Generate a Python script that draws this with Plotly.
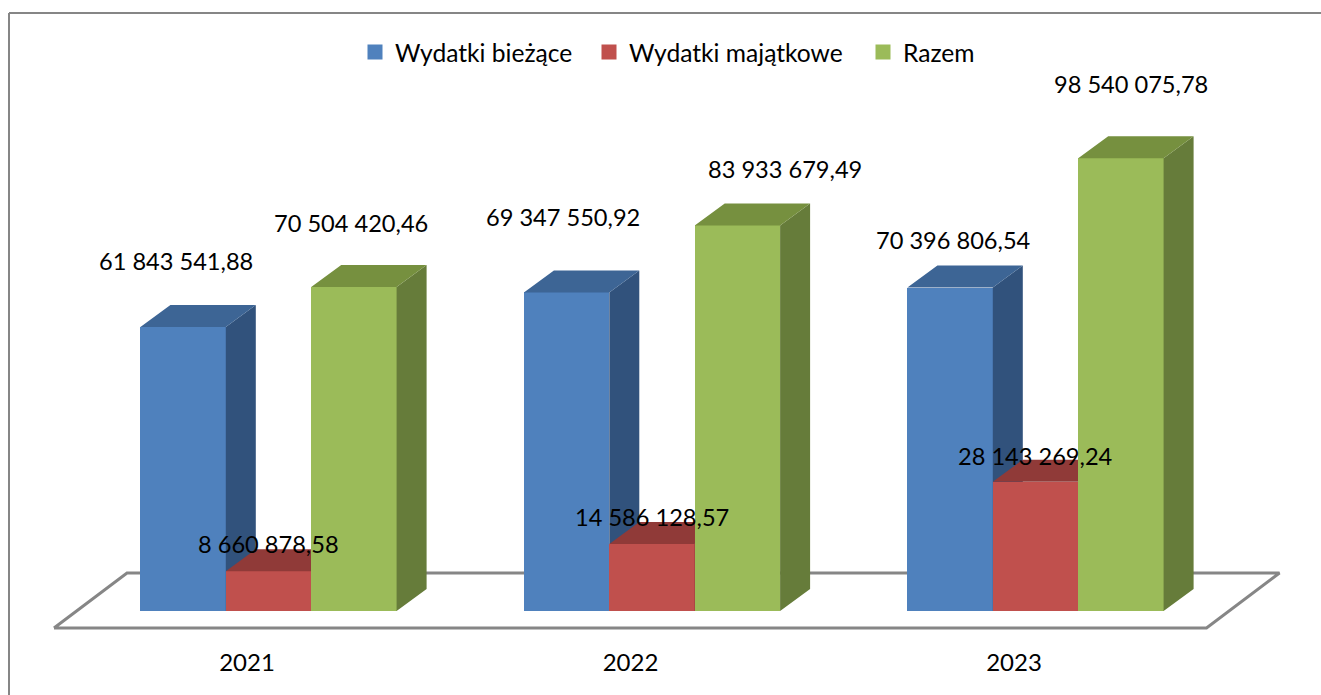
import plotly.graph_objects as go

# ---- data ----
years = [2021, 2022, 2023]
wydatki_biezace = [61843541.88, 69347550.92, 70396806.54]
wydatki_majatkowe = [8660878.58, 14586128.57, 28143269.24]
razem = [70504420.46, 83933679.49, 98540075.78]

series_names = ["Wydatki bieżące", "Wydatki majątkowe", "Razem"]
front_colors = ["#4F81BD", "#C0504D", "#9BBB59"]
side_colors = ["#31527C", "#7D3432", "#667C3A"]
top_colors = ["#3D6595", "#903A38", "#76903F"]

# label nudges in screen pixels (the labels are hand placed in the original)
label_dx = [[-7, -3.5, 3], [0, 0, 0], [-3, 48, 10]]
label_dy = [[66, 75, 48], [27, 27, 26], [64, 56, 74]]
# left edge of each legend entry's text, in pixels
legend_text_px = [395, 629, 903]

# ---- geometry ----
W, H = 1321, 695
BOTTOM = 50
UNIT_PX = 383.5           # pixels per year
VAL_PER_PX = 217680.0     # value per pixel
X0_PX, Y0_PX = 268.5, 611
TICK_SHIFT_PX = 21.5      # the year labels sit left of the bar groups
bar_w = 85.4 / UNIT_PX
dx = 30 / UNIT_PX
dy = 22 * VAL_PER_PX

x_range = [2021 - X0_PX / UNIT_PX, 2021 + (W - X0_PX) / UNIT_PX]
y_range = [-(H - BOTTOM - Y0_PX) * VAL_PER_PX, Y0_PX * VAL_PER_PX]

FONT = "Lato, Carlito, Calibri, sans-serif"
FS_LABEL = 23.6
FS_TICK = 24
FS_LEGEND = 24.6
all_series = [wydatki_biezace, wydatki_majatkowe, razem]


def fmt(v):
    return f"{v:,.2f}".replace(",", " ").replace(".", ",")


fig = go.Figure()

# floor of the 3D chart, in axis units
floor_left = 2021 - 214.5 / UNIT_PX
floor_right = 2023 + 171 / UNIT_PX
floor_front = -17 * VAL_PER_PX
floor_back = 38 * VAL_PER_PX
floor_dx = 73 / UNIT_PX
fig.add_trace(go.Scatter(
    x=[floor_left, floor_right, floor_right + floor_dx, floor_left + floor_dx, floor_left],
    y=[floor_front, floor_front, floor_back, floor_back, floor_front],
    mode="lines", line=dict(color="#868686", width=3),
    showlegend=False, hoverinfo="skip",
))

for i, (name, values) in enumerate(zip(series_names, all_series)):
    n = str(i + 2)
    xa, ya = "x" + n, "y" + n
    off = (-1.5 + i) * bar_w
    # front faces, as real bars
    fig.add_trace(go.Bar(
        x=years, y=values, name=name, width=bar_w, offset=off,
        marker=dict(color=front_colors[i], line=dict(width=0)),
        xaxis=xa, yaxis=ya, showlegend=False,
    ))
    # side and top faces, worked out from the same values
    sx, sy, tx, ty = [], [], [], []
    for yr, v in zip(years, values):
        l = yr + off
        r = l + bar_w
        sx += [r, r + dx, r + dx, r, r, None]
        sy += [0, dy, v + dy, v, 0, None]
        tx += [l, l + dx, r + dx, r, l, None]
        ty += [v, v + dy, v + dy, v, v, None]
    fig.add_trace(go.Scatter(x=sx, y=sy, mode="lines", fill="toself", fillcolor=side_colors[i],
                             line=dict(width=0), showlegend=False, hoverinfo="skip",
                             xaxis=xa, yaxis=ya))
    fig.add_trace(go.Scatter(x=tx, y=ty, mode="lines", fill="toself", fillcolor=top_colors[i],
                             line=dict(width=0), showlegend=False, hoverinfo="skip",
                             xaxis=xa, yaxis=ya))
    # legend key
    fig.add_trace(go.Scatter(x=[None], y=[None], mode="markers", name=name,
                             marker=dict(symbol="square", size=15, color=front_colors[i]),
                             legend="legend" if i == 0 else "legend" + str(i + 1),
                             showlegend=True, hoverinfo="skip"))

# data labels
off_centers = [-bar_w, 0, bar_w]
annotations = []
for i, values in enumerate(all_series):
    for j, (yr, v) in enumerate(zip(years, values)):
        annotations.append(dict(
            x=yr + off_centers[i], y=v, xref="x", yref="y",
            text=fmt(v), showarrow=False,
            xshift=label_dx[i][j], yshift=label_dy[i][j],
            font=dict(family=FONT, size=FS_LABEL, color="#000000"),
        ))

axis_hidden = dict(range=x_range, visible=False, fixedrange=True)
yaxis_hidden = dict(range=y_range, visible=False, fixedrange=True)


def legend_at(text_px):
    return dict(x=(text_px - 40) / W, xanchor="left", y=1 - 52 / (H - BOTTOM), yanchor="middle",
                bgcolor="rgba(0,0,0,0)", font=dict(family=FONT, size=FS_LEGEND, color="#000000"))


fig.update_layout(
    width=W, height=H, autosize=False,
    margin=dict(l=0, r=0, t=0, b=BOTTOM, pad=0),
    paper_bgcolor="#FFFFFF", plot_bgcolor="rgba(0,0,0,0)",
    font=dict(family=FONT, size=FS_LABEL, color="#000000"),
    barmode="overlay", bargap=0,
    hovermode=False,
    xaxis=dict(range=x_range, tickmode="array",
               tickvals=[y - TICK_SHIFT_PX / UNIT_PX for y in years], ticktext=[str(y) for y in years],
               showgrid=False, zeroline=False, showline=False, ticks="", fixedrange=True,
               ticklabelstandoff=1,
               tickfont=dict(family=FONT, size=FS_TICK, color="#000000")),
    yaxis=dict(range=y_range, visible=False, fixedrange=True),
    xaxis2=dict(axis_hidden, overlaying="x", anchor="y2"),
    yaxis2=dict(yaxis_hidden, overlaying="y", anchor="x2"),
    xaxis3=dict(axis_hidden, overlaying="x", anchor="y3"),
    yaxis3=dict(yaxis_hidden, overlaying="y", anchor="x3"),
    xaxis4=dict(axis_hidden, overlaying="x", anchor="y4"),
    yaxis4=dict(yaxis_hidden, overlaying="y", anchor="x4"),
    legend=legend_at(legend_text_px[0]),
    legend2=legend_at(legend_text_px[1]),
    legend3=legend_at(legend_text_px[2]),
    annotations=annotations,
    shapes=[
        dict(type="line", xref="paper", yref="paper",
             x0=9 / W, x1=9 / W, y0=-BOTTOM / (H - BOTTOM), y1=(H - BOTTOM - 13) / (H - BOTTOM),
             line=dict(color="#868686", width=2)),
        dict(type="line", xref="paper", yref="paper",
             x0=9 / W, x1=1, y0=(H - BOTTOM - 13) / (H - BOTTOM), y1=(H - BOTTOM - 13) / (H - BOTTOM),
             line=dict(color="#868686", width=2)),
    ],
)

fig.write_html("out.html", config={"displayModeBar": False},
               post_script="document.body.style.margin='0';")
